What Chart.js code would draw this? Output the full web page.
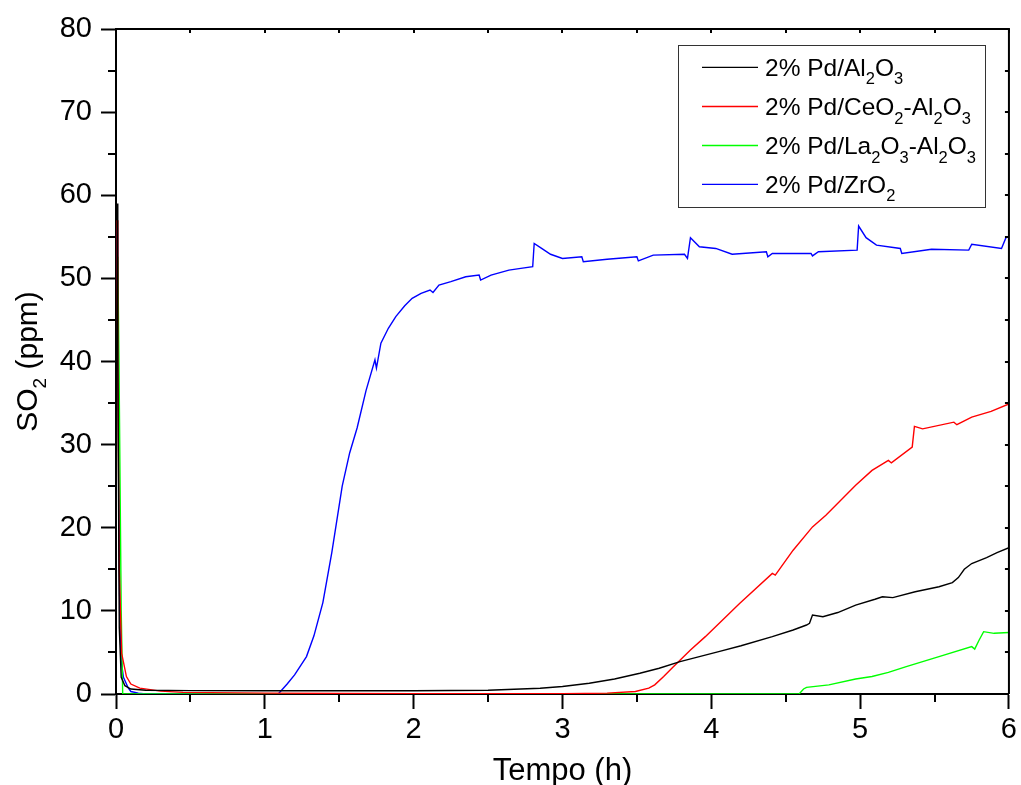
<!DOCTYPE html>
<html>
<head>
<meta charset="utf-8">
<title>SO2 - Tempo</title>
<script src="https://cdn.jsdelivr.net/npm/chart.js@4.4.1/dist/chart.umd.min.js"></script>
<style>
    html, body { margin: 0; padding: 0; background: #fff; }
    #wrap { width: 1021px; height: 785px; }
</style>
</head>
<body>
<div id="wrap"><canvas id="so2" width="1021" height="785"></canvas></div>
<script>
// --- Data -------------------------------------------------------------------------------------------
// SO2 outlet concentration (ppm) against time (h), one pair of arrays per catalyst

const alTime = [0.008, 0.012, 0.022, 0.035, 0.06, 0.1, 0.2, 0.5, 1.0, 1.5, 2.0, 2.5, 2.85, 3.0, 3.18, 3.35,
    3.52, 3.65, 3.79, 3.92, 4.05, 4.2, 4.41, 4.55, 4.64, 4.66, 4.68, 4.75, 4.85, 4.97, 5.1, 5.15, 5.22,
    5.37, 5.53, 5.62, 5.66, 5.7, 5.75, 5.85, 5.92, 6.0]
const alSO2 = [59, 40, 8, 2, 1.0, 0.6, 0.45, 0.4, 0.4, 0.4, 0.4, 0.45, 0.7, 0.9, 1.3, 1.8,
    2.5, 3.1, 3.9, 4.5, 5.1, 5.8, 6.9, 7.7, 8.3, 8.5, 9.5, 9.3, 9.8, 10.7, 11.4, 11.7, 11.6,
    12.3, 12.9, 13.4, 14.0, 15.0, 15.7, 16.4, 17.0, 17.6]

const ceTime = [0.007, 0.012, 0.022, 0.038, 0.07, 0.1, 0.16, 0.3, 0.45, 1.0, 2.0, 3.0, 3.3, 3.49, 3.58, 3.62,
    3.68, 3.74, 3.86, 3.96, 4.19, 4.41, 4.43, 4.55, 4.68, 4.77, 4.97, 5.08, 5.19, 5.21, 5.35, 5.365,
    5.42, 5.63, 5.65, 5.75, 5.88, 6.0]
const ceSO2 = [57, 40, 15, 4.9, 2.1, 1.2, 0.7, 0.35, 0.2, 0.1, 0.05, 0.05, 0.1, 0.3, 0.7, 1.1,
    2.1, 3.2, 5.3, 6.9, 10.9, 14.5, 14.3, 17.3, 20.1, 21.5, 25.1, 26.9, 28.1, 27.8, 29.7, 32.2,
    31.9, 32.7, 32.4, 33.3, 34.0, 34.9]

const laTime = [0.012, 0.02, 0.035, 0.045, 1.0, 2.0, 3.0, 4.0, 4.59, 4.62, 4.64, 4.79, 4.97, 5.08, 5.19,
    5.31, 5.53, 5.75, 5.77, 5.8, 5.83, 5.9, 6.0]
const laSO2 = [52.6, 40, 10, 0, 0, 0, 0, 0, 0, 0.6, 0.8, 1.1, 1.8, 2.1, 2.6,
    3.3, 4.5, 5.7, 5.4, 6.5, 7.5, 7.3, 7.4]

const zrTime = [0.009, 0.014, 0.024, 0.035, 0.05, 0.08, 0.1, 0.15, 0.2, 1.09, 1.15, 1.2, 1.28, 1.33, 1.39,
    1.45, 1.52, 1.57, 1.62, 1.68, 1.74, 1.75, 1.78, 1.83, 1.88, 1.94, 1.99, 2.05, 2.11, 2.13, 2.17,
    2.25, 2.35, 2.44, 2.45, 2.52, 2.64, 2.72, 2.80, 2.81, 2.86, 2.92, 3.0, 3.13, 3.14, 3.3, 3.50,
    3.51, 3.61, 3.82, 3.84, 3.86, 3.92, 4.03, 4.14, 4.37, 4.38, 4.41, 4.67, 4.68, 4.72, 4.98, 4.99,
    5.04, 5.11, 5.27, 5.28, 5.48, 5.73, 5.75, 5.95, 5.98, 6.0]
const zrSO2 = [56.1, 40, 12, 4, 2, 0.8, 0.3, 0.1, 0, 0, 1.2, 2.3, 4.5, 7, 11,
    17, 25, 29, 32, 36.5, 40.2, 39.2, 42.2, 44, 45.4, 46.7, 47.6, 48.2, 48.6, 48.3, 49.2,
    49.6, 50.2, 50.4, 49.8, 50.4, 51, 51.2, 51.4, 54.2, 53.6, 52.9, 52.4, 52.6, 52.0, 52.3, 52.6,
    52.1, 52.8, 52.9, 52.4, 54.9, 53.8, 53.6, 52.9, 53.2, 52.6, 53, 53.0, 52.7, 53.2, 53.4, 56.3,
    54.9, 54, 53.6, 53.0, 53.5, 53.4, 54.1, 53.6, 54.9, 55.0]

// Legend entries, split into normal / subscript runs
const seriesColors = ['#000000', '#ff0000', '#00ff00', '#0000ff']
const seriesLabels = [
    [['2% Pd/Al'], ['2', 1], ['O'], ['3', 1]],
    [['2% Pd/CeO'], ['2', 1], ['-Al'], ['2', 1], ['O'], ['3', 1]],
    [['2% Pd/La'], ['2', 1], ['O'], ['3', 1], ['-Al'], ['2', 1], ['O'], ['3', 1]],
    [['2% Pd/ZrO'], ['2', 1]]
]
const yTitle = [['SO'], ['2', 1], [' (ppm)']]
const xTitle = 'Tempo (h)'

const FONT = '"Liberation Sans", Arial, Helvetica, sans-serif'


// --- Helpers ----------------------------------------------------------------------------------------
function toPoints(xs, ys) {
    return xs.map((x, i) => ({ x: x, y: ys[i] }))
}

// Draws a run list like [['SO'], ['2', 1]] starting at (x, y) on the baseline
function richText(ctx, runs, x, y, size, subSize, subDrop) {
    let cx = x
    runs.forEach(run => {
        const isSub = run[1] === 1
        ctx.font = `${isSub ? subSize : size}px ${FONT}`
        ctx.fillText(run[0], cx, isSub ? y + subDrop : y)
        cx += ctx.measureText(run[0]).width
    })
    return cx - x
}

function richWidth(ctx, runs, size, subSize) {
    let w = 0
    runs.forEach(run => {
        ctx.font = `${run[1] === 1 ? subSize : size}px ${FONT}`
        w += ctx.measureText(run[0]).width
    })
    return w
}


// --- Frame, minor ticks, titles and legend ----------------------------------------------------------
const decorPlugin = {
    id: 'decor',
    afterDraw(chart) {
        const ctx = chart.ctx
        const xs = chart.scales.x
        const ys = chart.scales.y
        const { left, right, top, bottom } = chart.chartArea

        ctx.save()
        ctx.strokeStyle = '#000'
        ctx.lineWidth = 2

        // top and right axis lines
        ctx.beginPath()
        ctx.moveTo(left, top)
        ctx.lineTo(right, top)
        ctx.lineTo(right, bottom)
        ctx.stroke()

        ctx.beginPath()
        // minor ticks outside on bottom / left, small inward ticks on top / right
        for (let v = 0; v <= 6.001; v += 0.5) {
            const px = Math.round(xs.getPixelForValue(v))
            if (Math.abs(v - Math.round(v)) > 0.01) {
                ctx.moveTo(px, bottom)
                ctx.lineTo(px, bottom + 8)
            }
            ctx.moveTo(px, top)
            ctx.lineTo(px, top + 4)
        }
        for (let v = 0; v <= 80.001; v += 5) {
            const py = Math.round(ys.getPixelForValue(v))
            if (v % 10 !== 0) {
                ctx.moveTo(left, py)
                ctx.lineTo(left - 8, py)
            }
            ctx.moveTo(right, py)
            ctx.lineTo(right - 4, py)
        }
        ctx.stroke()

        // axis titles
        ctx.fillStyle = '#000'
        ctx.textBaseline = 'alphabetic'
        ctx.textAlign = 'left'
        ctx.font = `31px ${FONT}`
        const xw = ctx.measureText(xTitle).width
        ctx.fillText(xTitle, (left + right) / 2 - xw / 2, 780)

        ctx.save()
        ctx.translate(37, (top + bottom) / 2)
        ctx.rotate(-Math.PI / 2)
        const yw = richWidth(ctx, yTitle, 30, 19)
        richText(ctx, yTitle, -yw / 2, 0, 30, 19, 9)
        ctx.restore()

        // legend box
        ctx.lineWidth = 1
        ctx.strokeStyle = '#333'
        ctx.strokeRect(678.5, 45.5, 307, 162)
        const rowY = [67.3, 106.5, 145.5, 184.3]
        seriesLabels.forEach((runs, i) => {
            ctx.strokeStyle = seriesColors[i]
            ctx.lineWidth = 1.3
            ctx.beginPath()
            ctx.moveTo(702, rowY[i])
            ctx.lineTo(758, rowY[i])
            ctx.stroke()
            ctx.fillStyle = '#000'
            richText(ctx, runs, 765, rowY[i] + 8.4, 24.5, 16.5, 8.6)
        })

        ctx.restore()
    }
}


// --- Chart ------------------------------------------------------------------------------------------
const series = [
    [alTime, alSO2],
    [ceTime, ceSO2],
    [laTime, laSO2],
    [zrTime, zrSO2]
]

new Chart(document.getElementById('so2'), {
    type: 'line',
    data: {
        datasets: series.map((s, i) => ({
            data: toPoints(s[0], s[1]),
            borderColor: seriesColors[i],
            borderWidth: 1.4,
            pointRadius: 0,
            tension: 0,
            fill: false
        }))
    },
    options: {
        responsive: false,
        animation: false,
        devicePixelRatio: 1,
        layout: { padding: { left: 0, top: 29, right: 10, bottom: 0 } },
        plugins: {
            legend: { display: false },
            tooltip: { enabled: false }
        },
        scales: {
            x: {
                type: 'linear',
                min: 0,
                max: 6,
                afterFit: scale => { scale.height = 91 },
                ticks: {
                    stepSize: 1,
                    color: '#000',
                    padding: 4,
                    maxRotation: 0,
                    font: { family: FONT, size: 29 }
                },
                grid: {
                    drawOnChartArea: false,
                    drawTicks: true,
                    tickLength: 15,
                    tickWidth: 2,
                    tickColor: '#000'
                },
                border: { color: '#000', width: 2 }
            },
            y: {
                min: 0,
                max: 80,
                afterFit: scale => { scale.width = 116 },
                ticks: {
                    stepSize: 10,
                    color: '#000',
                    padding: 9,
                    font: { family: FONT, size: 29 }
                },
                grid: {
                    drawOnChartArea: false,
                    drawTicks: true,
                    tickLength: 15,
                    tickWidth: 2,
                    tickColor: '#000'
                },
                border: { color: '#000', width: 2 }
            }
        }
    },
    plugins: [decorPlugin]
})
</script>
</body>
</html>
